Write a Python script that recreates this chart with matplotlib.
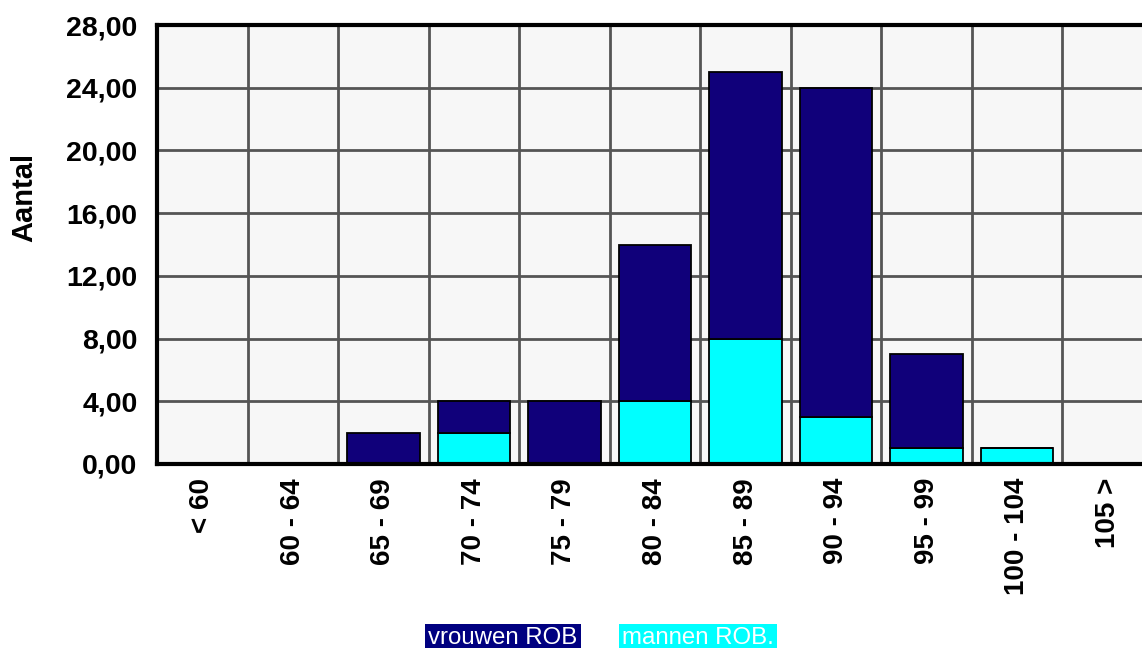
import matplotlib.pyplot as plt
import numpy as np

plt.rcParams['font.family'] = ['Liberation Sans', 'DejaVu Sans']

categories = ['< 60', '60 - 64', '65 - 69', '70 - 74', '75 - 79', '80 - 84',
              '85 - 89', '90 - 94', '95 - 99', '100 - 104', '105 >']
mannen = [0, 0, 0, 2, 0, 4, 8, 3, 1, 1, 0]
vrouwen = [0, 0, 2, 2, 4, 10, 17, 21, 6, 0, 0]
yticks = [0, 4, 8, 12, 16, 20, 24, 28]

navy_bar = '#10007a'
navy_leg = '#000080'
cyan = '#00ffff'

fig = plt.figure(figsize=(11.42, 6.48), dpi=100)
W, H = 1142, 648
# axes runs a bit past the right edge, like the original
ax = fig.add_axes([157 / W, 184 / H, (1153 - 157) / W, (464 - 25) / H])
ax.set_facecolor('#f7f7f7')

x = np.arange(len(categories))
m = np.array(mannen)
v = np.array(vrouwen)
ax.bar(x, m, width=0.8, color=cyan, edgecolor='black', linewidth=1.3, zorder=3)
ax.bar(x, v, width=0.8, bottom=m, color=navy_bar, edgecolor='black',
       linewidth=1.3, zorder=3)

ax.set_xlim(-0.5, len(categories) - 0.5)
ax.set_ylim(0, 28)
ax.set_yticks(yticks)
ax.set_yticklabels(['%d,00' % t for t in yticks], fontsize=20.5, fontweight='bold')
ax.set_xticks(x)
ax.set_xticklabels(categories, rotation=90, fontsize=20, fontweight='bold',
                   va='top', ha='center')
ax.tick_params(length=0)
ax.tick_params(axis='y', pad=14)
ax.tick_params(axis='x', pad=10)

# grid: horizontal at ticks, vertical at category boundaries
for t in yticks[1:]:
    ax.axhline(t, color='#555555', linewidth=2, zorder=1)
for b in np.arange(0.5, len(categories) - 0.5, 1):
    ax.axvline(b, color='#555555', linewidth=2, zorder=1)

for s in ['left', 'bottom', 'top']:
    ax.spines[s].set_linewidth(3)
    ax.spines[s].set_zorder(4)
ax.spines['right'].set_visible(False)

ax.set_ylabel('Aantal', fontsize=21, fontweight='bold')
ax.yaxis.set_label_coords(-0.1195, 0.608)

fig.text(428 / W, 4 / H, 'vrouwen ROB', color='white', fontsize=17.3,
         va='baseline', ha='left',
         bbox=dict(facecolor=navy_leg, edgecolor='none', pad=2.5))
fig.text(622 / W, 4 / H, 'mannen ROB.', color='white', fontsize=17.3,
         va='baseline', ha='left',
         bbox=dict(facecolor=cyan, edgecolor='none', pad=2.5))

fig.savefig('out.png', dpi=100)
